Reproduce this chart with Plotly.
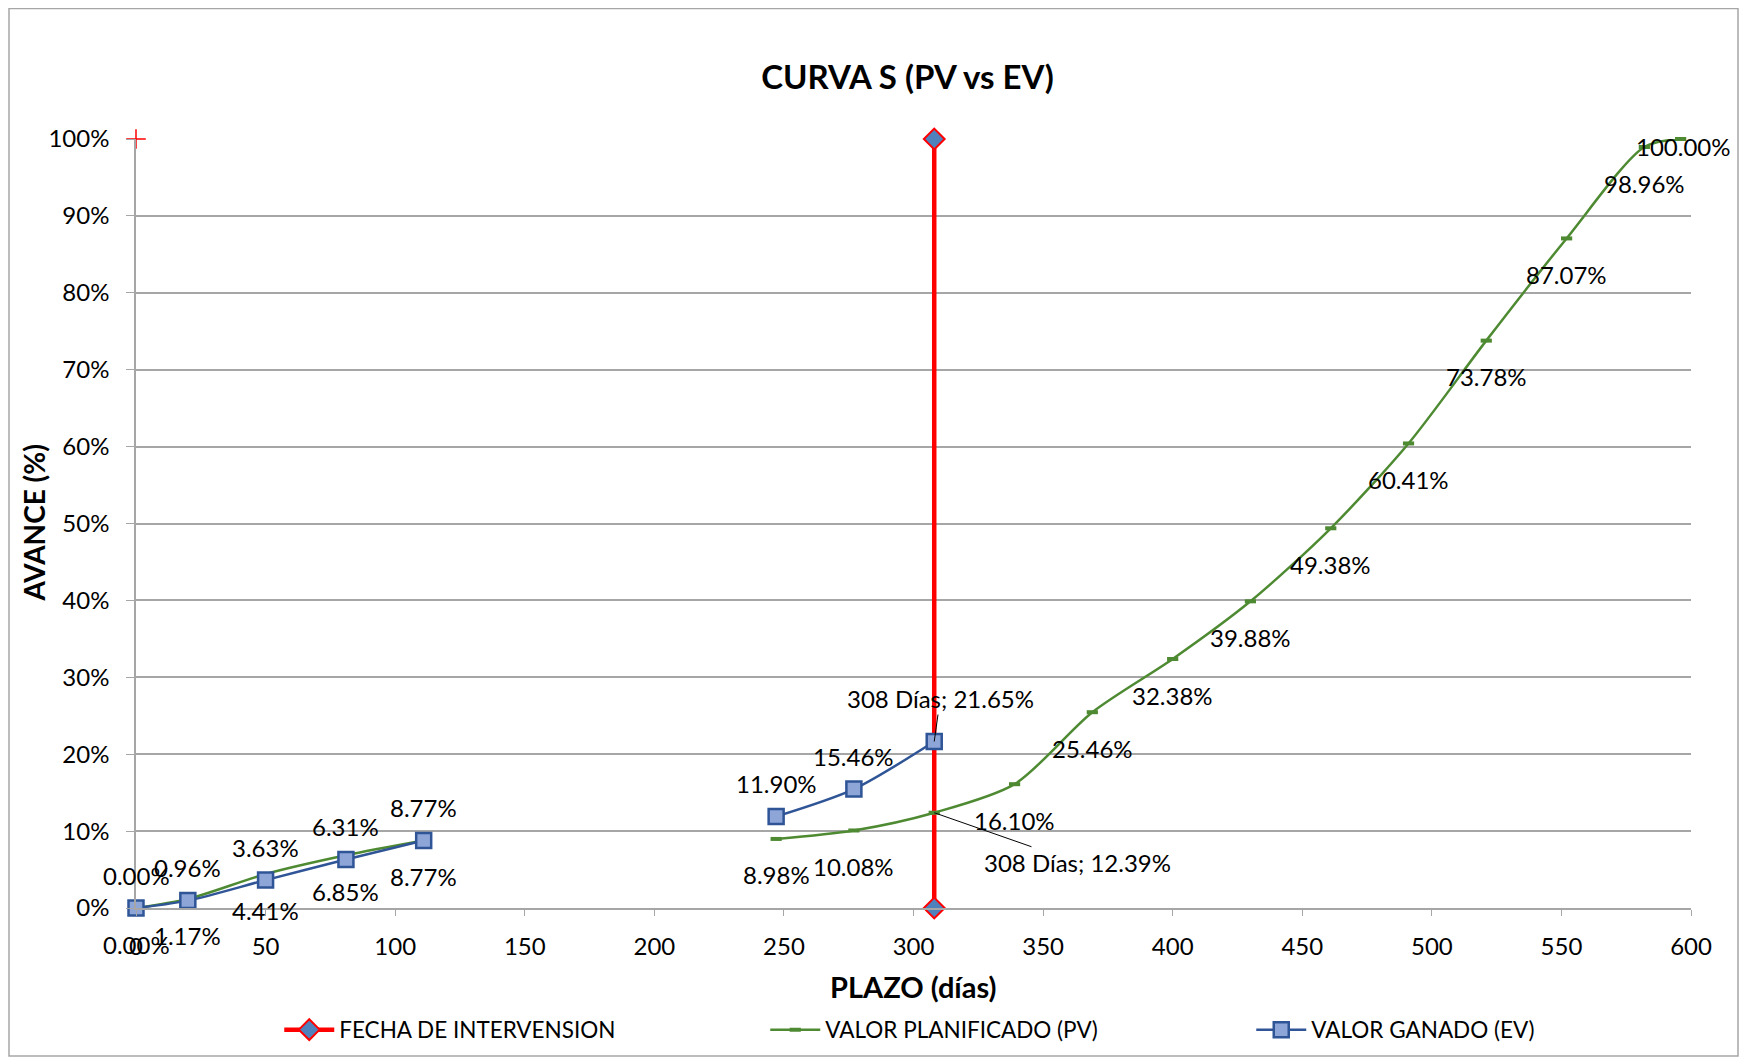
import plotly.graph_objects as go

# colores
ROJO = '#FF0000'
VERDE = '#4E8A32'
AZUL = '#2F5597'
AZUL_CLARO = '#8EA5D8'
DIAMANTE = '#4F81BD'
GRIS = '#A6A6A6'
FUENTE = 'Lato'

# datos (días / avance %)
dias_pv = [0, 20, 50, 81, 111, None, 247, 277, 308, 339, 369, 400, 430, 461, 491, 521, 552, 582, 596]
pv = [0.00, 1.17, 4.41, 6.85, 8.77, None, 8.98, 10.08, 12.39, 16.10, 25.46, 32.38, 39.88, 49.38,
      60.41, 73.78, 87.07, 98.96, 100.00]

dias_ev = [0, 20, 50, 81, 111, None, 247, 277, 308]
ev = [0.00, 0.96, 3.63, 6.31, 8.77, None, 11.90, 15.46, 21.65]

dias_corte = [308, 308]
corte = [0, 100]

fig = go.Figure()

fig.add_trace(go.Scatter(
    x=dias_corte, y=corte, name='FECHA DE INTERVENSION', mode='lines+markers',
    line=dict(color=ROJO, width=4.5),
    marker=dict(symbol='diamond', size=16, color=DIAMANTE, line=dict(color=ROJO, width=2)),
    cliponaxis=False,
))
# cruz roja suelta en (0, 100%)
fig.add_trace(go.Scatter(
    x=[0], y=[100], mode='markers', showlegend=False,
    marker=dict(symbol='cross-thin', size=14, line=dict(color=ROJO, width=1.5)),
    cliponaxis=False,
))
fig.add_trace(go.Scatter(
    x=dias_pv, y=pv, name='VALOR PLANIFICADO (PV)', mode='lines+markers',
    line=dict(color=VERDE, width=2.5, shape='spline', smoothing=0.8),
    marker=dict(symbol='line-ew', size=8, line=dict(color=VERDE, width=4)),
    connectgaps=False, cliponaxis=False,
))
fig.add_trace(go.Scatter(
    x=dias_ev, y=ev, name='VALOR GANADO (EV)', mode='lines+markers',
    line=dict(color=AZUL, width=2.5, shape='spline', smoothing=0.8),
    marker=dict(symbol='square', size=15, color=AZUL_CLARO, line=dict(color=AZUL, width=2.5)),
    connectgaps=False, cliponaxis=False,
))

# etiquetas de datos
etiquetas = []
for d, v in zip(dias_pv, pv):
    if v is None:
        continue
    if d == 308:
        etiquetas.append(dict(x=d, y=v, text=f'{d} Días; {v:.2f}%', showarrow=True,
                              arrowhead=0, arrowwidth=1, arrowcolor='black', ax=143, ay=50))
    elif v == 100:
        etiquetas.append(dict(x=d, y=v, text=f'{v:.2f}%', showarrow=False, yshift=-7, xshift=3))
    else:
        etiquetas.append(dict(x=d, y=v, text=f'{v:.2f}%', showarrow=False, yshift=-36))
for d, v in zip(dias_ev, ev):
    if v is None:
        continue
    if d == 308:
        etiquetas.append(dict(x=d, y=v, text=f'{d} Días; {v:.2f}%', showarrow=True,
                              arrowhead=0, arrowwidth=1, arrowcolor='black', ax=6, ay=-43))
    else:
        etiquetas.append(dict(x=d, y=v, text=f'{v:.2f}%', showarrow=False, yshift=33))
for e in etiquetas:
    e['font'] = dict(family=FUENTE, size=24, color='black')

# títulos de ejes
etiquetas.append(dict(xref='paper', yref='paper', x=-103 / 1555, y=0.5, text='<b>AVANCE (%)</b>',
                      xanchor='center', yanchor='middle', textangle=-90, showarrow=False,
                      font=dict(family=FUENTE, size=28, color='black')))
etiquetas.append(dict(xref='paper', yref='paper', x=0.5, y=-78 / 769, text='<b>PLAZO (días)</b>',
                      xanchor='center', yanchor='middle', showarrow=False,
                      font=dict(family=FUENTE, size=29, color='black')))

fig.update_layout(
    width=1750, height=1058,
    margin=dict(l=128, r=67, t=131, b=158),
    paper_bgcolor='white', plot_bgcolor='white',
    font=dict(family=FUENTE, size=24, color='black'),
    title=dict(text='<b>CURVA S (PV vs EV)</b>', x=0.514, xanchor='center', y=0.934, yanchor='middle',
               font=dict(family=FUENTE, size=33, color='black')),
    annotations=etiquetas,
    showlegend=True,
    legend=dict(
        orientation='h', xref='container', yref='container', x=0.155, y=0.034,
        xanchor='left', yanchor='middle', itemwidth=50, entrywidth=421,
        font=dict(family=FUENTE, size=22.5, color='black'),
    ),
    xaxis=dict(
        range=[0, 600], dtick=50, showgrid=False, zeroline=False,
        showline=True, linecolor=GRIS, linewidth=1.5,
        ticks='outside', ticklen=6, tickcolor=GRIS, ticklabelstandoff=10,
    ),
    yaxis=dict(
        range=[0, 100], dtick=10, ticksuffix='%', zeroline=False,
        showgrid=True, gridcolor=GRIS, gridwidth=1.5,
        showline=True, linecolor=GRIS, linewidth=1.5,
        ticks='outside', ticklen=8, tickcolor=GRIS, ticklabelstandoff=12,
    ),
    shapes=[dict(type='rect', xref='paper', yref='paper',
                 x0=-127 / 1555, x1=1602 / 1555, y0=-148 / 769, y1=899.5 / 769,
                 line=dict(color=GRIS, width=1.5), fillcolor='rgba(0,0,0,0)', layer='below')],
)

fig.write_html('out.html')
